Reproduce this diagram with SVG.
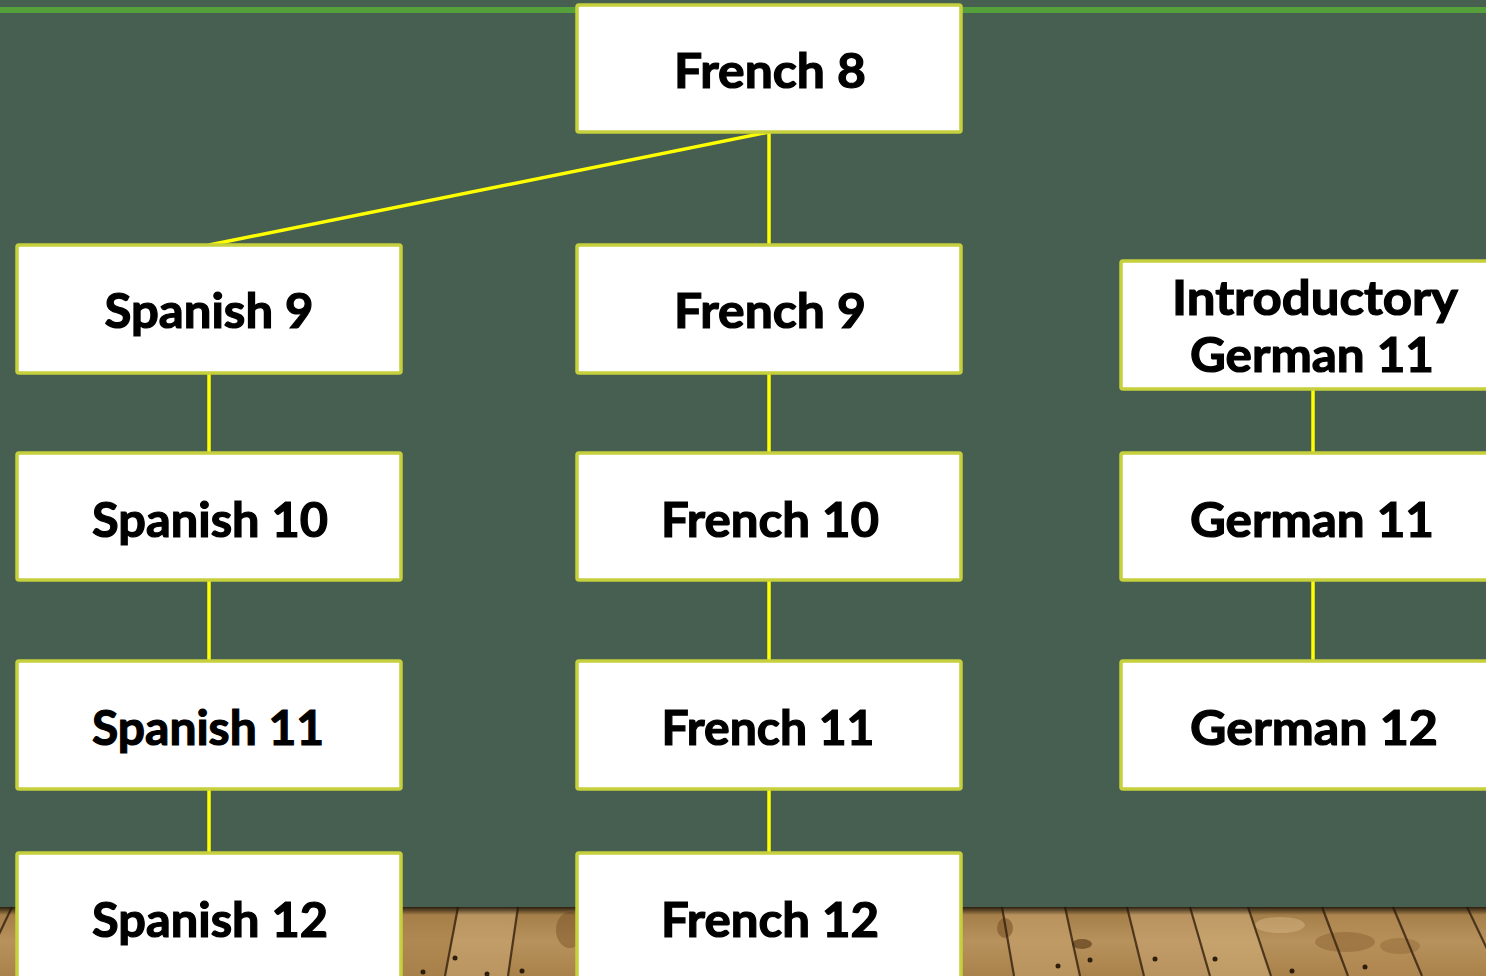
<svg xmlns="http://www.w3.org/2000/svg" width="1486" height="976" viewBox="0 0 1486 976">
  <style>
    .box { fill: #FFFFFF; stroke: #C6D03C; stroke-width: 3.5; }
    .lbl { font-family: Lato, "Liberation Sans", sans-serif; font-weight: 700; font-size: 48px; fill: #000000; stroke: #000000; stroke-width: 1.2; text-anchor: middle; }
    .conn { stroke: #FFFF00; stroke-width: 3.5; fill: none; }
    .seam { stroke: #3B2612; stroke-width: 2.2; fill: none; opacity: 0.85; }
    .nail { fill: #2E1C0C; }
  </style>
  <defs>
    <linearGradient id="wood" x1="0" y1="0" x2="0" y2="1">
      <stop offset="0" stop-color="#A07A45"/>
      <stop offset="0.5" stop-color="#B8925C"/>
      <stop offset="1" stop-color="#A8814B"/>
    </linearGradient>
    <linearGradient id="shadow" x1="0" y1="0" x2="0" y2="1">
      <stop offset="0" stop-color="#1E150A" stop-opacity="0.9"/>
      <stop offset="1" stop-color="#1E150A" stop-opacity="0"/>
    </linearGradient>
  </defs>

  <!-- background -->
  <rect x="0" y="0" width="1486" height="976" fill="#475F51"/>
  <rect x="0" y="7" width="1486" height="6" fill="#56A03C"/>

  <!-- wooden floor -->
  <g id="floor">
    <rect x="0" y="907" width="1486" height="69" fill="url(#wood)"/>
    <polygon points="1002,907 1065,907 1080,976 1014,976" fill="#C4A06A" opacity="0.6"/>
    <polygon points="1127,907 1190,907 1210,976 1144,976" fill="#C9A673" opacity="0.5"/>
    <polygon points="1190,907 1248,907 1271,976 1210,976" fill="#D2B07C" opacity="0.55"/>
    <polygon points="1322,907 1393,907 1422,976 1348,976" fill="#B58C55" opacity="0.5"/>
    <polygon points="458,907 518,907 508,976 445,976" fill="#C9A673" opacity="0.55"/>
    <polygon points="401,907 458,907 445,976 401,976" fill="#A67E47" opacity="0.5"/>
    <ellipse cx="1082" cy="944" rx="10" ry="5" fill="#6B4A22" opacity="0.8"/>
    <ellipse cx="1005" cy="928" rx="8" ry="10" fill="#7A5428" opacity="0.6"/>
    <ellipse cx="1345" cy="942" rx="30" ry="10" fill="#8A6232" opacity="0.5"/>
    <ellipse cx="1400" cy="946" rx="20" ry="8" fill="#8A6232" opacity="0.4"/>
    <ellipse cx="1280" cy="925" rx="25" ry="8" fill="#E0C190" opacity="0.4"/>
    <ellipse cx="570" cy="930" rx="14" ry="18" fill="#7A5428" opacity="0.5"/>
    <path class="seam" d="M12,907 L-21,976"/>
    <path class="seam" d="M458,907 L445,976"/>
    <path class="seam" d="M518,907 L508,976"/>
    <path class="seam" d="M1002,907 L1014,976"/>
    <path class="seam" d="M1065,907 L1080,976"/>
    <path class="seam" d="M1127,907 L1144,976"/>
    <path class="seam" d="M1190,907 L1210,976"/>
    <path class="seam" d="M1248,907 L1271,976"/>
    <path class="seam" d="M1322,907 L1348,976"/>
    <path class="seam" d="M1393,907 L1422,976"/>
    <path class="seam" d="M1467,907 L1500,976"/>
    <circle class="nail" cx="1058" cy="966" r="2.5"/>
    <circle class="nail" cx="1090" cy="960" r="2.5"/>
    <circle class="nail" cx="1155" cy="959" r="2.5"/>
    <circle class="nail" cx="1215" cy="959" r="2.5"/>
    <circle class="nail" cx="1292" cy="971" r="2.5"/>
    <circle class="nail" cx="1365" cy="967" r="2.5"/>
    <circle class="nail" cx="455" cy="958" r="2.5"/>
    <circle class="nail" cx="423" cy="972" r="2.5"/>
    <circle class="nail" cx="487" cy="974" r="2.5"/>
    <circle class="nail" cx="522" cy="971" r="2.5"/>
    <rect x="0" y="907" width="1486" height="8" fill="url(#shadow)"/>
  </g>

  <!-- connectors -->
  <g id="connectors">
    <path class="conn" d="M769,132 L209,245"/>
    <path class="conn" d="M769,132 L769,245"/>
    <path class="conn" d="M209,373 L209,453"/>
    <path class="conn" d="M209,580 L209,661"/>
    <path class="conn" d="M209,789 L209,853"/>
    <path class="conn" d="M769,373 L769,453"/>
    <path class="conn" d="M769,580 L769,661"/>
    <path class="conn" d="M769,789 L769,853"/>
    <path class="conn" d="M1313,389 L1313,453"/>
    <path class="conn" d="M1313,580 L1313,661"/>
  </g>

  <!-- nodes -->
  <g id="french8">
    <rect class="box" x="577" y="5" width="384" height="127" rx="2"/>
    <text class="lbl" x="770" y="88" textLength="192" lengthAdjust="spacingAndGlyphs">French 8</text>
  </g>
  <g id="spanish9">
    <rect class="box" x="17" y="245" width="384" height="128" rx="2"/>
    <text class="lbl" x="209" y="328" textLength="209" lengthAdjust="spacingAndGlyphs">Spanish 9</text>
  </g>
  <g id="french9">
    <rect class="box" x="577" y="245" width="384" height="128" rx="2"/>
    <text class="lbl" x="770" y="328" textLength="192" lengthAdjust="spacingAndGlyphs">French 9</text>
  </g>
  <g id="introgerman11">
    <rect class="box" x="1121" y="261" width="384" height="128" rx="2"/>
    <text class="lbl" x="1315" y="315" textLength="286" lengthAdjust="spacingAndGlyphs">Introductory</text>
    <text class="lbl" x="1312" y="372" textLength="244" lengthAdjust="spacingAndGlyphs">German 11</text>
  </g>
  <g id="spanish10">
    <rect class="box" x="17" y="453" width="384" height="127" rx="2"/>
    <text class="lbl" x="210" y="537" textLength="236" lengthAdjust="spacingAndGlyphs">Spanish 10</text>
  </g>
  <g id="french10">
    <rect class="box" x="577" y="453" width="384" height="127" rx="2"/>
    <text class="lbl" x="770" y="537" textLength="218" lengthAdjust="spacingAndGlyphs">French 10</text>
  </g>
  <g id="german11">
    <rect class="box" x="1121" y="453" width="384" height="127" rx="2"/>
    <text class="lbl" x="1312" y="537" textLength="244" lengthAdjust="spacingAndGlyphs">German 11</text>
  </g>
  <g id="spanish11">
    <rect class="box" x="17" y="661" width="384" height="128" rx="2"/>
    <text class="lbl" x="208" y="745" textLength="232" lengthAdjust="spacingAndGlyphs">Spanish 11</text>
  </g>
  <g id="french11">
    <rect class="box" x="577" y="661" width="384" height="128" rx="2"/>
    <text class="lbl" x="768" y="745" textLength="213" lengthAdjust="spacingAndGlyphs">French 11</text>
  </g>
  <g id="german12">
    <rect class="box" x="1121" y="661" width="384" height="128" rx="2"/>
    <text class="lbl" x="1314" y="745" textLength="248" lengthAdjust="spacingAndGlyphs">German 12</text>
  </g>
  <g id="spanish12">
    <rect class="box" x="17" y="853" width="384" height="140" rx="2"/>
    <text class="lbl" x="210" y="937" textLength="236" lengthAdjust="spacingAndGlyphs">Spanish 12</text>
  </g>
  <g id="french12">
    <rect class="box" x="577" y="853" width="384" height="140" rx="2"/>
    <text class="lbl" x="770" y="937" textLength="218" lengthAdjust="spacingAndGlyphs">French 12</text>
  </g>
</svg>
